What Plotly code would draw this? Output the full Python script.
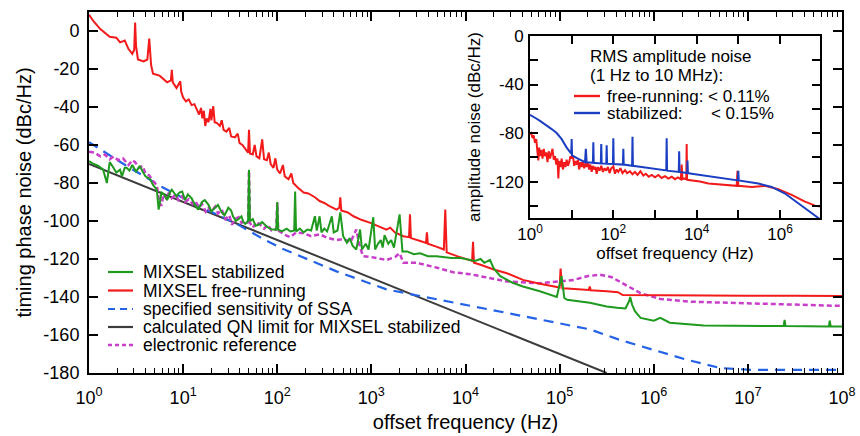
import numpy as np
import plotly.graph_objects as go

# ---------------- main panel data (x = log10 offset frequency / Hz, y = dBc/Hz)
stab_logf = [0.00, 0.05, 0.10, 0.15, 0.19, 0.22, 0.26, 0.29, 0.33, 0.35, 0.38, 0.40, 0.43, 0.46, 0.50,
             0.54, 0.57, 0.60, 0.65, 0.68, 0.72, 0.74, 0.77, 0.80, 0.83, 0.86, 0.88, 0.93, 0.96, 0.99,
             1.02, 1.05, 1.09, 1.12, 1.16, 1.20, 1.23, 1.27, 1.30, 1.34, 1.37, 1.41, 1.44, 1.48, 1.51,
             1.53, 1.56, 1.59, 1.62, 1.64, 1.66, 1.69, 1.70, 1.71, 1.74, 1.77, 1.80, 1.84, 1.89, 1.94,
             1.99, 2.00, 2.01, 2.05, 2.10, 2.14, 2.18, 2.19, 2.20, 2.24, 2.28, 2.32, 2.36, 2.40, 2.42,
             2.45, 2.47, 2.50, 2.53, 2.58, 2.60, 2.64, 2.67, 2.70, 2.74, 2.77, 2.80, 2.84, 2.88, 2.90,
             2.94, 2.97, 3.02, 3.04, 3.07, 3.10, 3.12, 3.14, 3.18, 3.21, 3.24, 3.30, 3.33, 3.38, 3.45,
             3.52, 3.60, 3.69, 3.77, 3.85, 3.95, 4.05, 4.10, 4.16, 4.20, 4.26, 4.30, 4.37, 4.50, 4.61,
             4.79, 4.97, 5.02, 5.05, 5.08, 5.32, 5.50, 5.61, 5.70, 5.74, 5.75, 5.77, 5.80, 5.86, 6.00,
             6.07, 6.17, 6.53, 7.00, 7.38, 7.39, 7.40, 7.86, 7.87, 7.88, 8.00]
stab_db = [-68.5, -70, -71, -73, -80, -69, -72, -74.5, -73, -76.5, -72, -72, -73.5, -70.5, -74,
           -71, -74, -76.5, -78, -81, -83.5, -94, -85, -86, -89, -85, -83.5, -87, -85, -84.5,
           -89, -86, -88, -91, -94, -90, -89, -91.5, -95, -93, -91.5, -95.5, -97, -93, -94.5,
           -97.5, -100, -99, -97.5, -100.5, -101.5, -100, -73, -100, -99, -102.5, -102, -100.5, -103, -104.5,
           -104.5, -90, -104.5, -105.5, -104, -105.5, -105, -84.5, -105.5, -104, -106, -104.5, -105, -97.5, -105,
           -97.5, -106, -104, -105.5, -97.5, -106, -105, -95.5, -108, -111.5, -109, -113, -115, -104.5, -115,
           -112, -115, -98, -115, -112, -110, -114, -107.5, -112, -110, -114, -96.5, -116, -116, -117.5,
           -117, -118.5, -118.5, -119, -119.5, -119.5, -120.5, -121, -120, -122, -120.5, -125, -129, -132.5, -134.5,
           -137, -140, -129, -140.5, -141.5, -143, -145, -145.7, -146, -142, -140, -144, -147.5, -151, -152.5,
           -151, -153.5, -155, -155.2, -155.3, -152, -155.3, -155.5, -152.5, -155.5, -155.5]

free_logf = [0.00, 0.05, 0.12, 0.22, 0.29, 0.33, 0.38, 0.42, 0.46, 0.48, 0.49, 0.50, 0.52, 0.58, 0.62,
             0.64, 0.66, 0.68, 0.75, 0.83, 0.87, 0.88, 0.89, 0.93, 0.97, 0.98, 1.00, 1.03, 1.06, 1.09,
             1.12, 1.15, 1.17, 1.19, 1.205, 1.22, 1.235, 1.25, 1.27, 1.29, 1.30, 1.32, 1.335, 1.36, 1.39,
             1.41, 1.43, 1.46, 1.49, 1.51, 1.55, 1.58, 1.60, 1.63, 1.66, 1.69, 1.70, 1.71, 1.74, 1.76,
             1.78, 1.81, 1.84, 1.86, 1.89, 1.91, 1.93, 1.96, 1.98, 2.00, 2.03, 2.06, 2.08, 2.12, 2.15,
             2.17, 2.22, 2.28, 2.33, 2.40, 2.45, 2.50, 2.55, 2.63, 2.66, 2.67, 2.68, 2.75, 2.81, 2.90,
             2.99, 3.08, 3.16, 3.20, 3.25, 3.34, 3.40, 3.41, 3.42, 3.52, 3.58, 3.59, 3.60, 3.69, 3.77,
             3.785, 3.80, 3.91, 4.00, 4.07, 4.08, 4.09, 4.16, 4.30, 4.44, 4.61, 4.79, 4.95, 5.00, 5.01,
             5.03, 5.08, 5.20, 5.31, 5.32, 5.33, 5.50, 5.62, 5.67, 5.80, 6.00, 6.50, 7.00, 7.50, 8.00]
free_db = [8.5, 5, 1, -3, -3.5, -6, -5, -9.5, -12, -10, 4.5, -8, -15, -16, -15,
           -4, -18, -22.5, -23.5, -27, -26, -20.5, -27, -30, -26.5, -32, -35, -37, -36, -39,
           -38.5, -42, -44, -40.5, -46, -42, -50, -46, -48, -41, -47, -39.6, -48, -48.5, -50,
           -47, -52, -53, -51, -55.5, -56, -54, -59, -60, -62, -64, -52, -64.5, -65, -60,
           -66, -67, -57, -67.5, -68, -64, -70, -72, -67, -73, -75, -70.5, -76.5, -78, -75,
           -80, -82.5, -85, -85.5, -87.5, -89.5, -90.5, -92, -94, -93, -87.5, -94.5, -95.5, -97.5, -99.5,
           -101, -103, -104.5, -103.5, -106, -108, -108.5, -96.5, -109, -110.5, -111.5, -106, -112, -113.5, -115,
           -94, -116.5, -118.5, -120, -121, -111, -122, -123, -125.5, -127.5, -131, -133, -134.5, -135, -125,
           -135.5, -135.5, -136, -136.3, -134.5, -136.5, -137, -137.5, -139, -139, -139, -139.2, -139.3, -139.4, -139.5]

ssa_logf = [0.00, 0.35, 0.79, 1.20, 1.55, 1.87, 2.05, 2.63, 3.16, 3.69, 4.00, 4.44, 4.97, 5.32, 5.64,
            6.00, 6.35, 6.71, 7.06, 8.00]
ssa_db = [-58.5, -69.5, -82.5, -93, -101, -110, -114.5, -126.5, -136, -141, -144, -148.4, -153.6, -157, -162.6,
          -168, -173, -177.4, -178.4, -178.4]

qn_logf = [0.0, 5.5]
qn_db = [-70, -180]

eref_logf = [0.00, 0.06, 0.12, 0.17, 0.22, 0.26, 0.31, 0.36, 0.42, 0.46, 0.49, 0.53, 0.57, 0.60, 0.64,
             0.68, 0.72, 0.745, 0.77, 0.79, 0.82, 0.85, 0.88, 0.92, 0.95, 0.99, 1.02, 1.06, 1.10, 1.13,
             1.17, 1.20, 1.24, 1.27, 1.30, 1.34, 1.37, 1.41, 1.45, 1.49, 1.52, 1.55, 1.59, 1.62, 1.66,
             1.69, 1.70, 1.71, 1.74, 1.78, 1.82, 1.86, 1.90, 1.94, 1.99, 2.00, 2.01, 2.07, 2.14, 2.20,
             2.28, 2.36, 2.45, 2.54, 2.63, 2.70, 2.78, 2.84, 2.87, 2.91, 3.00, 3.16, 3.25, 3.30, 3.34,
             3.48, 3.69, 3.87, 4.05, 4.29, 4.44, 4.79, 4.95, 5.15, 5.30, 5.43, 5.55, 5.64, 5.75, 5.86,
             6.07, 6.40, 6.71, 7.20, 7.60, 8.00]
eref_db = [-63.5, -64, -66, -65, -67.5, -66, -68, -67, -70.5, -68, -69, -72, -71, -75, -76,
           -79, -81, -90, -92, -86, -88, -85, -88, -86, -89, -87, -90, -88.5, -91, -89.5,
           -93, -91, -95, -93, -95, -92.5, -96, -94, -99, -97, -102, -99, -98, -101, -100,
           -101, -73.5, -101, -103.5, -100.5, -102, -104, -102, -105, -104.5, -90.5, -105, -107, -108.5, -106,
           -106.5, -108, -107, -109, -110, -109.5, -111, -104.5, -112, -118.5, -119, -120.5, -119, -117, -122,
           -122, -124.5, -127, -128, -130.5, -131.8, -132.8, -132, -131, -129, -128.3, -129.5, -131.8, -135, -138,
           -141, -142.5, -143, -143.5, -144.2, -144.7]

# ---------------- inset data (amplitude noise)
amp_free_logf = [0.00, 0.03, 0.06, 0.09, 0.12, 0.15, 0.18, 0.20, 0.22, 0.25, 0.28, 0.30, 0.33, 0.36, 0.39,
                 0.42, 0.45, 0.48, 0.51, 0.54, 0.57, 0.60, 0.63, 0.66, 0.68, 0.70, 0.73, 0.76, 0.79, 0.82,
                 0.85, 0.88, 0.91, 0.94, 0.97, 1.00, 1.03, 1.06, 1.09, 1.12, 1.15, 1.18, 1.21, 1.24, 1.27,
                 1.30, 1.33, 1.36, 1.39, 1.42, 1.45, 1.48, 1.51, 1.54, 1.57, 1.60, 1.63, 1.67, 1.71, 1.75,
                 1.79, 1.83, 1.87, 1.91, 1.95, 2.00, 2.04, 2.08, 2.12, 2.17, 2.22, 2.28, 2.33, 2.40, 2.46,
                 2.52, 2.58, 2.65, 2.72, 2.78, 2.85, 2.92, 3.00, 3.08, 3.16, 3.24, 3.32, 3.40, 3.48, 3.55,
                 3.62, 3.64, 3.66, 3.70, 3.75, 3.76, 3.77, 3.88, 4.08, 4.28, 4.48, 4.68, 4.96, 4.98, 5.00,
                 5.32, 5.64, 5.96, 6.28, 6.60, 6.84, 6.96]
amp_free_db = [-81, -80, -84, -82, -88, -85, -96, -102.5, -92, -99, -94, -101, -93, -99, -96,
               -104, -95, -101, -97, -93, -102, -99, -106, -101, -117.5, -103, -108, -101, -110, -104,
               -108, -102, -107, -104, -99, -101, -98.5, -107, -103, -106, -102, -110, -104, -108, -103,
               -109, -105, -108, -104, -110, -106, -112, -107, -110, -108, -113.5, -108, -111, -107, -112,
               -109, -111, -108, -113, -109, -107.5, -113.5, -110, -112, -109, -113, -110.5, -113, -111.5, -114,
               -112, -114.5, -111.5, -115, -113.5, -116, -114.5, -116.5, -114.5, -117, -115.5, -117.5, -116, -118, -116.5,
               -118, -106, -118, -117.5, -118, -89, -118.5, -119, -120, -121.5, -122, -123, -123.5, -111, -123.5,
               -124.4, -123.5, -126.3, -131, -136.5, -139.8, -140.5]

amp_stab_logf = [0.00, 0.04, 0.15, 0.24, 0.38, 0.52, 0.64, 0.76, 0.88, 0.99, 1.00, 1.01, 1.15, 1.32, 1.34,
                 1.36, 1.51, 1.52, 1.53, 1.70, 1.71, 1.72, 1.83, 1.84, 1.85, 1.99, 2.00, 2.01, 2.23, 2.24,
                 2.25, 2.45, 2.46, 2.47, 2.68, 3.00, 3.27, 3.28, 3.29, 3.57, 3.58, 3.59, 3.77, 3.78, 3.79,
                 3.88, 4.28, 4.68, 4.99, 5.00, 5.01, 5.48, 5.80, 6.12, 6.44, 6.76, 6.96]
amp_stab_db = [-65, -66, -68, -70, -73, -76.7, -80, -85, -92, -97, -85, -98.5, -101, -104, -93,
               -104, -104.5, -87.5, -104.5, -105, -89, -105, -105.3, -90, -105.3, -105.5, -84.3, -105.5, -106, -93,
               -106, -107, -83, -107, -108, -109.5, -110.8, -84.3, -111, -112, -95, -112, -113, -102.6, -113,
               -113.5, -115.5, -117.6, -119, -111, -119, -121.6, -124.4, -129.8, -138, -146, -151]

# ---------------- labels
main_tick_exp = [0, 1, 2, 3, 4, 5, 6, 7, 8]
inset_label_exp = [0, 2, 4, 6]
inset_minor_exp = [1, 3, 5]
main_y_ticks = [0, -20, -40, -60, -80, -100, -120, -140, -160, -180]
inset_y_labels = [0, -40, -80, -120]
inset_y_minor = [-20, -60, -100, -140]
legend_names = ["MIXSEL stabilized", "MIXSEL free-running", "specified sensitivity of SSA",
                "calculated QN limit for MIXSEL stabilized", "electronic reference"]
inset_title = ["RMS amplitude noise", "(1 Hz to 10 MHz):"]
inset_entries = ["free-running:&nbsp;&lt;&nbsp;0.11%",
                 "stabilized:&nbsp;&nbsp;&nbsp;&nbsp;&nbsp;&nbsp;&lt;&nbsp;0.15%"]

# ---------------- styles
C_GREEN = "#1f9a1f"
C_RED = "#f21a1a"
C_BLUE = "#2563e6"
C_GRAY = "#3c3c3c"
C_MAG = "#c83ec8"
C_IBLUE = "#1a3fc2"
FONT = "Liberation Sans, Arial, Helvetica, sans-serif"

PX_L, PX_R, PX_T, PX_B = 89, 842, 12, 373


def px(x):
    return (x - PX_L) / (PX_R - PX_L)


def py(y):
    return (PX_B - y) / (PX_B - PX_T)


def hz(logf):
    return 10 ** np.asarray(logf, dtype=float)


fig = go.Figure()

main_series = [
    (qn_logf, qn_db, C_GRAY, 2.0, "solid"),
    (ssa_logf, ssa_db, C_BLUE, 2.2, "10px,7px"),
    (eref_logf, eref_db, C_MAG, 2.5, "5px,3px"),
    (free_logf, free_db, C_RED, 2.0, "solid"),
    (stab_logf, stab_db, C_GREEN, 2.0, "solid"),
]
for lf, db, col, w, dash in main_series:
    fig.add_trace(go.Scatter(x=hz(lf), y=db, mode="lines", showlegend=False,
                             line=dict(color=col, width=w, dash=dash),
                             xaxis="x", yaxis="y", hoverinfo="skip"))

for lf, db, col in [(amp_free_logf, amp_free_db, C_RED), (amp_stab_logf, amp_stab_db, C_IBLUE)]:
    fig.add_trace(go.Scatter(x=hz(lf), y=db, mode="lines", showlegend=False,
                             line=dict(color=col, width=2.0),
                             xaxis="x2", yaxis="y2", hoverinfo="skip"))

minor_main = [k * 10 ** e for e in main_tick_exp[:-1] for k in range(2, 10)]

axis_common = dict(showline=True, linecolor="black", linewidth=2, mirror="ticks",
                   ticks="inside", tickcolor="black", showgrid=False, zeroline=False,
                   automargin=False)

fig.update_layout(
    width=860, height=436, autosize=False,
    margin=dict(l=PX_L, r=860 - PX_R, t=PX_T, b=436 - PX_B, pad=0, autoexpand=False),
    paper_bgcolor="white", plot_bgcolor="white",
    font=dict(family=FONT, color="black"),
    showlegend=False,
    xaxis=dict(type="log", range=[0, 8], domain=[0, 1], anchor="y",
               tickvals=[10 ** e for e in main_tick_exp],
               ticktext=[f"10<sup>{e}</sup>" for e in main_tick_exp],
               ticklen=9, tickwidth=1.6, tickfont=dict(size=18), ticklabelstandoff=7,
               minor=dict(tickvals=minor_main, ticks="inside", ticklen=5, tickwidth=1.3, tickcolor="black"),
               title=dict(text="offset frequency (Hz)", font=dict(size=20), standoff=8),
               **axis_common),
    yaxis=dict(range=[-180, 10], domain=[0, 1], anchor="x",
               tickvals=main_y_ticks, ticktext=[str(v) for v in main_y_ticks],
               ticklen=9, tickwidth=1.6, tickfont=dict(size=18), ticklabelstandoff=4,
               title=dict(text="timing phase noise (dBc/Hz)", font=dict(size=20), standoff=6),
               **axis_common),
    xaxis2=dict(type="log", range=[0, 6.96], domain=[px(530), px(820)], anchor="y2",
                tickvals=[10 ** e for e in inset_label_exp],
                ticktext=[f"10<sup>{e}</sup>" for e in inset_label_exp],
                ticklen=8, tickwidth=1.6, tickfont=dict(size=17),
                minor=dict(tickvals=[10 ** e for e in inset_minor_exp], ticks="inside", ticklen=8,
                           tickwidth=1.6, tickcolor="black"),
                title=dict(text="offset frequency (Hz)", font=dict(size=17), standoff=2),
                **axis_common),
    yaxis2=dict(range=[-150, 0], domain=[py(218), py(36)], anchor="x2",
                tickvals=inset_y_labels, ticktext=[str(v) for v in inset_y_labels],
                ticklen=8, tickwidth=1.6, tickfont=dict(size=17), ticklabelstandoff=1,
                minor=dict(tickvals=inset_y_minor, ticks="inside", ticklen=8, tickwidth=1.6, tickcolor="black"),
                title=dict(text="amplitude noise (dBc/Hz)", font=dict(size=17), standoff=5),
                **axis_common),
)

# main legend (drawn manually for the reference's tight spacing)
leg_y = [272, 290.5, 309, 327, 345]
leg_style = [(C_GREEN, "solid", 2.2), (C_RED, "solid", 2.2), (C_BLUE, "7px,5px", 2.2),
             (C_GRAY, "solid", 2.2), (C_MAG, "4px,3px", 2.5)]
for name, yy, (col, dash, w) in zip(legend_names, leg_y, leg_style):
    fig.add_shape(type="line", xref="paper", yref="paper", x0=px(108), x1=px(133), y0=py(yy), y1=py(yy),
                  line=dict(color=col, width=w, dash=dash))
    fig.add_annotation(text=name, xref="paper", yref="paper", x=px(141), y=py(yy),
                       xanchor="left", yanchor="middle", showarrow=False, font=dict(size=17.5))

# inset legend
for txt, yy in zip(inset_title, [56.5, 75]):
    fig.add_annotation(text=txt, xref="paper", yref="paper", x=px(588), y=py(yy),
                       xanchor="left", yanchor="middle", showarrow=False, font=dict(size=17))
for txt, yy, col in zip(inset_entries, [96, 113], [C_RED, C_IBLUE]):
    fig.add_shape(type="line", xref="paper", yref="paper", x0=px(574), x1=px(600), y0=py(yy), y1=py(yy),
                  line=dict(color=col, width=2.4))
    fig.add_annotation(text=txt, xref="paper", yref="paper", x=px(605), y=py(yy),
                       xanchor="left", yanchor="middle", showarrow=False, font=dict(size=17))

fig.write_html("out.html", config={"displayModeBar": False},
               post_script="document.body.style.margin='0';")
